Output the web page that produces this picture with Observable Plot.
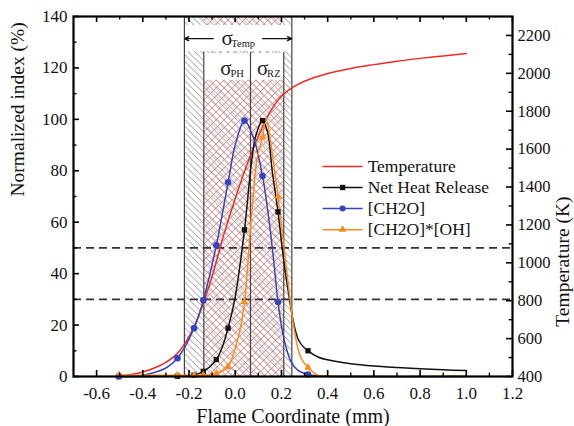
<!DOCTYPE html>
<html><head><meta charset="utf-8">
<script src="https://cdn.jsdelivr.net/npm/d3@7"></script>
<script src="https://cdn.jsdelivr.net/npm/@observablehq/plot@0.6"></script>
<style>body{margin:0;background:#fff} svg text{font-family:"Liberation Serif","DejaVu Serif",serif !important;}</style>
</head><body><div id="chart"></div>
<script>
// ---------- data ----------
// Temperature (K) along the flame coordinate (mm), right axis
const tempX = [-0.5,-0.45,-0.4,-0.35,-0.3,-0.25,-0.2,-0.15,-0.1,-0.05,0,0.05,0.1,0.15,0.2,0.25,0.3,0.4,0.5,0.6,0.7,0.8,0.9,1.0];
const tempK = [404,411,424,445,475,522,610,746,929,1146,1340,1515,1668,1795,1879,1927,1958,1999,2026,2046,2064,2079,2092,2105];

// marker locations shared by the three normalized series
const markX = [-0.504,-0.25,-0.178,-0.138,-0.082,-0.031,0.04,0.118,0.185,0.315];
const nhrMarkY   = [0,0.1,0.5,2.0,6.6,18.8,57,99.5,64,10];
const ch2oMarkY  = [0,7.1,18.8,29.7,51,75.5,99.5,78,29,0.8];
const prodMarkY  = [0.5,0.5,0.5,0.6,1.2,3.8,29,93,70,3.5];

// extra points read along each smooth curve between markers
const nhrCurveX  = [-0.3,-0.2,-0.11,-0.06,0.0,0.07,0.09,0.14,0.16,0.21,0.235,0.25,0.27,0.29,0.36,0.4,0.5,0.6,0.7,0.8,0.9,1.0];
const nhrCurveY  = [0.05,0.3,3.8,10.5,31,83,94,95,80,45,30,22,15,12,7.5,6.5,5,4.1,3.5,3.0,2.6,2.3];
const ch2oCurveX = [-0.4,-0.3,0.0,0.08,0.15,0.17,0.21,0.24,0.27,0.36,0.45,1.0];
const ch2oCurveY = [0.5,3.3,90,92.5,58,42,15,6,2.5,0.2,0,0];
const prodCurveX = [0.0,0.023,0.07,0.095,0.133,0.155,0.218,0.254,0.283,0.355,0.4,1.0];
const prodCurveY = [11,19,62,85,100.5,90,45,19,7.5,0.6,0.2,0.2];

// zone boundaries (mm): sigma_Temp outer, sigma_PH / sigma_RZ
const zoneBounds = [-0.22,-0.136,0.066,0.21,0.245];
const thresholds = [50,30];

// labels and styling
const legendLabels = ["Temperature","Net Heat Release","[CH2O]","[CH2O]*[OH]"];
const seriesColors = ["#ec2b25","#111111","#3344c4","#ff8a1c"];
const seriesSymbols = [null,"square","circle","triangle"];

// axes ticks
const xTicks = [-0.6,-0.4,-0.2,0.0,0.2,0.4,0.6,0.8,1.0,1.2];
const xMinor = [-0.5,-0.3,-0.1,0.1,0.3,0.5,0.7,0.9,1.1];
const yTicks = [0,20,40,60,80,100,120,140];
const yMinor = [10,30,50,70,90,110,130];
const tTicks = [400,600,800,1000,1200,1400,1600,1800,2000,2200];
const tMinor = [500,700,900,1100,1300,1500,1700,1900,2100];

// ---------- build ----------
const T0 = 400, T1 = 2300, Y1 = 140;
const toY = T => (T - T0) / (T1 - T0) * Y1;
const fromY = y => Math.round(T0 + y * (T1 - T0) / Y1);

const tempData = tempX.map((x,i)=>({x, y: toY(tempK[i])}));
function merge(mx, my, cx, cy){
  const a = mx.map((x,i)=>({x, y: my[i]})).concat(cx.map((x,i)=>({x, y: cy[i]})));
  return a.sort((p,q)=>p.x-q.x);
}
const nhrLine  = merge(markX, nhrMarkY, nhrCurveX, nhrCurveY);
const ch2oLine = merge(markX, ch2oMarkY, ch2oCurveX, ch2oCurveY);
const prodLine = merge(markX, prodMarkY, prodCurveX, prodCurveY);
const marks = (ys)=> markX.map((x,i)=>({x, y: ys[i]}));

const W = 574, H = 426, mL = 73, mR = 62, mT = 16, mB = 50;
const innerH = H - mT - mB, innerW = W - mL - mR;
const majorLen = 6, minorLen = 3.5;
const FONT = "'Liberation Serif','DejaVu Serif',serif";

const legendRows = legendLabels.map((label,i)=>({label, color: seriesColors[i], symbol: seriesSymbols[i], y: 81.7 - i*8.2}));
const legX1 = 0.378, legX2 = 0.551, legTX = 0.573;

const seriesMarks = [
  Plot.line(tempData, {x:"x", y:"y", stroke: seriesColors[0], strokeWidth: 1.5, curve: "catmull-rom"}),
  Plot.line(nhrLine, {x:"x", y:"y", stroke: seriesColors[1], strokeWidth: 1.5, curve: "catmull-rom"}),
  Plot.line(ch2oLine, {x:"x", y:"y", stroke: seriesColors[2], strokeWidth: 1.5, curve: "catmull-rom"}),
  Plot.line(prodLine, {x:"x", y:"y", stroke: seriesColors[3], strokeWidth: 1.5, curve: "catmull-rom"}),
  Plot.dot(marks(nhrMarkY), {x:"x", y:"y", symbol:"square", fill: seriesColors[1], r: 3}),
  Plot.dot(marks(ch2oMarkY), {x:"x", y:"y", symbol:"circle", fill: seriesColors[2], r: 3.3}),
  Plot.dot(marks(prodMarkY), {x:"x", y:"y", symbol:"triangle", fill: seriesColors[3], r: 2.8})
];

const legendMarks = [];
legendRows.forEach(d=>{
  legendMarks.push(Plot.link([d], {x1: legX1, x2: legX2, y1: "y", y2: "y", stroke: d.color, strokeWidth: 1.5}));
  if (d.symbol) legendMarks.push(Plot.dot([d], {x: (legX1+legX2)/2, y: "y", symbol: d.symbol, fill: d.color, r: d.symbol==="triangle"?2.8:3}));
  legendMarks.push(Plot.text([d], {x: legTX, y: "y", text: "label", textAnchor: "start", fontSize: 17.5, fill: "#111", fontFamily: FONT}));
});

const svg = Plot.plot({
  width: W, height: H,
  marginLeft: mL, marginRight: mR, marginTop: mT, marginBottom: mB,
  style: {fontFamily: FONT, fontSize: "17px", color: "#111", background: "#fff"},
  x: {domain: [-0.7, 1.2]},
  y: {domain: [0, 140]},
  marks: [
    // shaded zones
    Plot.rect([0], {x1: zoneBounds[0], x2: zoneBounds[4], y1: 0, y2: 140, fill: "url(#hatchGray)"}),
    Plot.rect([0], {x1: zoneBounds[1], x2: zoneBounds[3], y1: 0, y2: 140, fill: "url(#hatchRed)"}),
    Plot.rect([0], {x1: zoneBounds[0], x2: zoneBounds[4], y1: 126.3, y2: 136.5, fill: "white"}),
    Plot.rect([0], {x1: zoneBounds[1], x2: zoneBounds[3], y1: 115.2, y2: 125.6, fill: "white"}),
    Plot.ruleX([zoneBounds[0], zoneBounds[4]], {y1: 0, y2: 140, stroke: "#444", strokeWidth: 1.2}),
    Plot.ruleX([zoneBounds[1], zoneBounds[2], zoneBounds[3]], {y1: 0, y2: 126, stroke: "#444", strokeWidth: 1.2}),
    // sigma annotations
    Plot.arrow([0], {x1: -0.095, x2: zoneBounds[0], y1: 131.4, y2: 131.4, stroke: "#111", strokeWidth: 1.2, headLength: 6, headAngle: 50}),
    Plot.arrow([0], {x1: 0.118, x2: zoneBounds[4], y1: 131.4, y2: 131.4, stroke: "#111", strokeWidth: 1.2, headLength: 6, headAngle: 50}),
    Plot.text(["σ"], {x: -0.035, y: 131.6, fontSize: 21, fill: "#222", fontFamily: FONT}),
    Plot.text(["Temp"], {x: -0.017, y: 129.4, fontSize: 10.5, textAnchor: "start", fill: "#222", fontFamily: FONT}),
    Plot.text(["σ"], {x: -0.04, y: 119.8, fontSize: 21, fill: "#222", fontFamily: FONT}),
    Plot.text(["PH"], {x: -0.021, y: 117.8, fontSize: 10.5, textAnchor: "start", fill: "#222", fontFamily: FONT}),
    Plot.text(["σ"], {x: 0.119, y: 119.8, fontSize: 21, fill: "#222", fontFamily: FONT}),
    Plot.text(["RZ"], {x: 0.138, y: 117.8, fontSize: 10.5, textAnchor: "start", fill: "#222", fontFamily: FONT}),
    // threshold lines
    Plot.ruleY(thresholds, {stroke: "#333", strokeWidth: 1.8, strokeDasharray: "8,5"}),
    ...seriesMarks,
    ...legendMarks,
    // frame and inward ticks
    Plot.frame({stroke: "#000", strokeWidth: 2.2}),
    Plot.tickX(xTicks, {x: d=>d, insetTop: innerH - majorLen, stroke: "#000", strokeWidth: 1.6}),
    Plot.tickX(xMinor, {x: d=>d, insetTop: innerH - minorLen, stroke: "#000", strokeWidth: 1.4}),
    Plot.tickX(xTicks, {x: d=>d, insetBottom: innerH - majorLen, stroke: "#000", strokeWidth: 1.6}),
    Plot.tickX(xMinor, {x: d=>d, insetBottom: innerH - minorLen, stroke: "#000", strokeWidth: 1.4}),
    Plot.tickY(yTicks, {y: d=>d, insetRight: innerW - majorLen, stroke: "#000", strokeWidth: 1.6}),
    Plot.tickY(yMinor, {y: d=>d, insetRight: innerW - minorLen, stroke: "#000", strokeWidth: 1.4}),
    Plot.tickY(tTicks.map(toY), {y: d=>d, insetLeft: innerW - majorLen, stroke: "#000", strokeWidth: 1.6}),
    Plot.tickY(tMinor.map(toY), {y: d=>d, insetLeft: innerW - minorLen, stroke: "#000", strokeWidth: 1.4}),
    // axes labels
    Plot.axisX(xTicks, {anchor: "bottom", tickSize: 0, tickPadding: 10, tickFormat: d => d.toFixed(1), label: null, fontSize: 17, fontFamily: FONT}),
    Plot.axisY(yTicks, {anchor: "left", tickSize: 0, tickPadding: 6, label: null, fontSize: 17, fontFamily: FONT}),
    Plot.axisY(tTicks.map(toY), {anchor: "right", tickSize: 0, tickPadding: 5, tickFormat: d => String(fromY(d)), label: null, fontSize: 16.5, fontFamily: FONT}),
    Plot.text(["Flame Coordinate (mm)"], {frameAnchor: "bottom", dy: 40, lineAnchor: "middle", fontSize: 20, fill: "#111", fontFamily: FONT}),
    Plot.text(["Normalized index (%)"], {frameAnchor: "left", dx: -56, rotate: -90, lineAnchor: "middle", fontSize: 19.5, fill: "#111", fontFamily: FONT}),
    Plot.text(["Temperature (K)"], {frameAnchor: "right", dx: 50, rotate: -90, lineAnchor: "middle", fontSize: 19.5, fill: "#111", fontFamily: FONT})
  ]
});

// hatch patterns
const defs = d3.select(svg).insert("defs", ":first-child");
const pg = defs.append("pattern").attr("id","hatchGray").attr("patternUnits","userSpaceOnUse").attr("width",6.5).attr("height",6.5);
pg.append("rect").attr("width",6.5).attr("height",6.5).attr("fill","#fff");
pg.append("path").attr("d","M-1,-1L7.5,7.5M-1,5.5L1,7.5M5.5,-1L7.5,1").attr("stroke","#7a7a7a").attr("stroke-width",0.8).attr("fill","none");
const pr = defs.append("pattern").attr("id","hatchRed").attr("patternUnits","userSpaceOnUse").attr("width",8).attr("height",8);
pr.append("path").attr("d","M9,-1L-1,9M-1,1L1,-1M7,9L9,7").attr("stroke","#ec6e6e").attr("stroke-width",0.75).attr("fill","none");
pr.append("path").attr("d","M-1,-1L9,9M-1,7L1,9M7,-1L9,1").attr("stroke","#ee8a8a").attr("stroke-width",0.6).attr("fill","none");
d3.select(svg).selectAll("text").attr("font-family", FONT);

document.getElementById("chart").appendChild(svg);
</script>
</body></html>
